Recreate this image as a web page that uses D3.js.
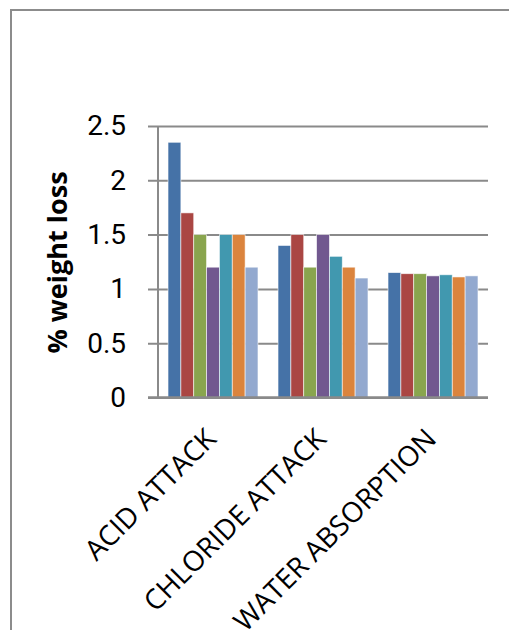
<!DOCTYPE html>
<html>
<head>
<meta charset="utf-8">
<script src="https://cdn.jsdelivr.net/npm/d3@7"></script>
<style>
  html, body { margin: 0; padding: 0; background: #fff; }
  svg { display: block; }
</style>
</head>
<body>
<svg id="chart" width="509" height="630"></svg>
<script>
// Test categories and the seven mix series (percentage weight loss)
const categories = ["ACID ATTACK", "CHLORIDE ATTACK", "WATER ABSORPTION"];
const seriesNames = ["S1", "S2", "S3", "S4", "S5", "S6", "S7"];
const series1 = [2.35, 1.40, 1.15];
const series2 = [1.70, 1.50, 1.14];
const series3 = [1.50, 1.20, 1.14];
const series4 = [1.20, 1.50, 1.12];
const series5 = [1.50, 1.30, 1.13];
const series6 = [1.50, 1.20, 1.11];
const series7 = [1.20, 1.10, 1.12];
const yTicks = [0, 0.5, 1, 1.5, 2, 2.5];
const yTickLabels = ["0", "0.5", "1", "1.5", "2", "2.5"];
const yTitle = "% weight loss";
const colors = ["#4572A7", "#AA4643", "#89A54E", "#71588F", "#4198AF", "#DB843D", "#93A9CF"];

const allSeries = [series1, series2, series3, series4, series5, series6, series7];

const svg = d3.select("#chart");

// Outer chart frame (runs off the right and bottom edges)
svg.append("rect")
  .attr("x", 11).attr("y", 10)
  .attr("width", 540).attr("height", 660)
  .attr("fill", "none")
  .attr("stroke", "#8c8c8c")
  .attr("stroke-width", 2);

const plot = { left: 158, right: 488, top: 126, bottom: 397.5 };

const x = d3.scaleBand()
  .domain(categories)
  .range([plot.left, plot.right])
  .paddingInner(0).paddingOuter(0);

const xInner = d3.scaleBand()
  .domain(seriesNames)
  .range([0, x.bandwidth()])
  .paddingOuter(0.78);

const y = d3.scaleLinear()
  .domain([0, 2.5])
  .range([plot.bottom, plot.top]);

const grey = "#8a8a8a";

// Horizontal gridlines with tick marks sticking out to the left
const yAxis = d3.axisLeft(y)
  .tickValues(yTicks)
  .tickFormat((d, i) => yTickLabels[i])
  .tickSize(plot.right - plot.left + 10)
  .tickSizeOuter(0)
  .tickPadding(22);

const gy = svg.append("g")
  .attr("transform", `translate(${plot.right},0)`)
  .call(yAxis);
gy.select(".domain").remove();
gy.selectAll(".tick line")
  .attr("stroke", grey)
  .attr("stroke-width", 2);
gy.selectAll(".tick text")
  .attr("x", -(plot.right - plot.left + 32))
  .attr("font-family", "Roboto, 'Liberation Sans', sans-serif")
  .attr("font-size", 28)
  .attr("fill", "#000");

// Vertical value axis line
svg.append("line")
  .attr("x1", plot.left).attr("x2", plot.left)
  .attr("y1", plot.top).attr("y2", plot.bottom)
  .attr("stroke", grey)
  .attr("stroke-width", 2);

// Bars
const groups = svg.append("g")
  .selectAll("g")
  .data(categories)
  .join("g")
  .attr("transform", d => `translate(${x(d)},0)`);

groups.selectAll("rect")
  .data((c, ci) => allSeries.map((s, si) => ({ name: seriesNames[si], value: s[ci], color: colors[si] })))
  .join("rect")
  .attr("x", d => xInner(d.name))
  .attr("width", xInner.bandwidth())
  .attr("y", d => y(d.value))
  .attr("height", d => y(0) - y(d.value))
  .attr("fill", d => d.color)
  .attr("stroke", "#ffffff")
  .attr("stroke-opacity", 0.7)
  .attr("stroke-width", 0.8);

// Category axis line drawn over the bar bases
svg.append("line")
  .attr("x1", plot.left - 10).attr("x2", plot.right)
  .attr("y1", y(0)).attr("y2", y(0))
  .attr("stroke", grey)
  .attr("stroke-width", 2.5);

// Rotated category labels
svg.append("g")
  .selectAll("text")
  .data(categories)
  .join("text")
  .attr("transform", d => `translate(${x(d) + x.bandwidth() / 2 + 5},${y(0) + 43}) rotate(-45)`)
  .attr("text-anchor", "end")
  .attr("font-family", "'Open Sans', sans-serif")
  .attr("font-size", 28)
  .attr("fill", "#000")
  .text(d => d);

// Value axis title
svg.append("text")
  .attr("transform", `translate(67,${(170 + 355) / 2}) rotate(-90)`)
  .attr("text-anchor", "middle")
  .attr("font-family", "'Open Sans', sans-serif")
  .attr("font-weight", "bold")
  .attr("font-size", 27)
  .attr("fill", "#000")
  .text(yTitle);
</script>
</body>
</html>
